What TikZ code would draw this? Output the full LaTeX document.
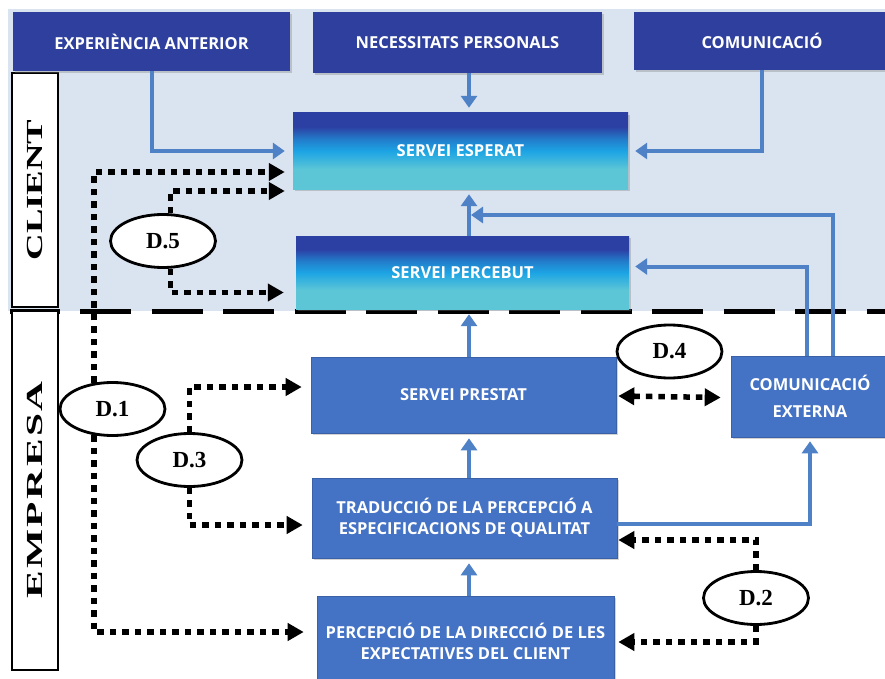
\documentclass[tikz,border=0pt]{standalone}
\usepackage{fontspec}
\setmainfont{Liberation Serif}
\newfontfamily\boxfont{Open Sans}
\newfontfamily\empresafont{Liberation Serif}[LetterSpace=6]
\usetikzlibrary{arrows.meta,shapes.geometric,shadows,calc}

\definecolor{navy}{HTML}{2E3F9E}
\definecolor{midblue}{HTML}{4472C4}
\definecolor{flowblue}{HTML}{4F81C7}
\definecolor{clientbg}{HTML}{DAE3F0}
\definecolor{gldark}{HTML}{2C3FA3}
\definecolor{glbright}{HTML}{1CA4E4}
\definecolor{glcyan}{HTML}{5CC6D6}
\pgfdeclareverticalshading{gloss}{100bp}{color(0bp)=(glcyan); color(25bp)=(glcyan); color(38bp)=(glcyan); color(50bp)=(glbright); color(58bp)=(glbright!60!gldark); color(66bp)=(gldark); color(75bp)=(gldark); color(100bp)=(gldark)}

\tikzset{
  boxtext/.style={text=white, align=center, inner sep=2pt, font=\boxfont\bfseries\fontsize{16.5}{21}\selectfont},
  topbox/.style={boxtext, rectangle, fill=navy, drop shadow={shadow xshift=2pt,shadow yshift=-2pt,opacity=0.35}},
  glossbox/.style={boxtext, rectangle, shading=gloss, drop shadow={shadow xshift=2pt,shadow yshift=-2pt,opacity=0.35}},
  midbox/.style={boxtext, rectangle, fill=midblue, draw=midblue!85!black, line width=0.6pt, drop shadow={shadow xshift=2pt,shadow yshift=-2pt,opacity=0.35}},
  labelbox/.style={rectangle, draw, line width=2pt, fill=white, rotate=90, inner sep=0pt},
  gapnode/.style={ellipse, draw, line width=2.8pt, fill=white, minimum width=105, minimum height=53, inner sep=0pt, font=\bfseries\fontsize{23}{23}\selectfont},
  flow/.style={draw=flowblue, line width=4pt, shorten >=5pt, -{Triangle[length=12pt,width=16pt]}},
  gapline/.style={line width=5.5pt, dash pattern=on 6.5pt off 6pt, -{Triangle[length=16pt,width=17pt]}}
}

\begin{document}
\begin{tikzpicture}[x=1pt,y=-1pt, line join=miter]
\useasboundingbox (0,0) rectangle (885,679);
\fill[clientbg] (8,9) rectangle (885,311);

% separacio client / empresa
\draw[line width=5pt] (10,311) -- (60,311);
\draw[line width=5pt, dash pattern=on 51pt off 20.5pt] (80,311) -- (885,311);

\node[labelbox, minimum width=234, minimum height=46] (cli) at (35,190) {\scalebox{1.6}[1]{\bfseries\fontsize{23}{23}\selectfont CLIENT}};
\node[labelbox, minimum width=359, minimum height=46] (emp) at (35,490) {\scalebox{1.8}[1]{\empresafont\bfseries\fontsize{23}{23}\selectfont EMPRESA}};

\node[topbox, minimum width=277, minimum height=59] (exp) at (151.5,41.5) {EXPERIÈNCIA ANTERIOR};
\node[topbox, minimum width=289, minimum height=61] (nec) at (457.5,42.5) {NECESSITATS PERSONALS};
\node[topbox, minimum width=256, minimum height=58] (com) at (762,41) {COMUNICACIÓ};

\node[glossbox, minimum width=335, minimum height=76] (esp) at (460.5,151) {SERVEI ESPERAT};
\node[glossbox, minimum width=333, minimum height=73] (perc) at (462.5,272.5) {SERVEI PERCEBUT};
\node[midbox, minimum width=305, minimum height=76] (prest) at (463.5,395) {SERVEI PRESTAT};
\node[midbox, minimum width=158, minimum height=81] (ext) at (810,396.5) {COMUNICACIÓ\\[6pt]EXTERNA};
\node[midbox, minimum width=305, minimum height=80] (trad) at (464.5,518) {TRADUCCIÓ DE LA PERCEPCIÓ A\\ESPECIFICACIONS DE QUALITAT};
\node[midbox, minimum width=297, minimum height=90] (dir) at (465.5,641) {PERCEPCIÓ DE LA DIRECCIÓ DE LES\\EXPECTATIVES DEL CLIENT};

\node[gapnode] (d1) at (112.5,409) {D.1};
\node[gapnode] (d5) at (163,241) {D.5};
\node[gapnode] (d3) at (189.5,460) {D.3};
\node[gapnode] (d4) at (669.5,351.5) {D.4};
\node[gapnode] (d2) at (756,598) {D.2};

% fletxes blaves
\coordinate (axis) at (469,0);
\coordinate (kink) at (471,215);
\draw[flow, shorten >=8pt] (exp.south) |- (esp.west);
\draw[flow] (nec.south -| axis) -- (esp.north -| axis);
\draw[flow, shorten >=7pt] (com.south) |- (esp.east);
\draw[flow] (perc.north -| axis) -- (esp.south -| axis);
\draw[flow] (prest.north -| axis) -- (perc.south -| axis);
\draw[flow] (trad.north -| axis) -- (prest.south -| axis);
\draw[flow] (dir.north -| axis) -- (trad.south -| axis);
\draw[flow, shorten >=4pt] ([yshift=-6pt]trad.east) -| (ext.south);
\draw[flow, shorten >=6pt] ([xshift=-3pt]ext.north) |- ([yshift=6pt]perc.east);
\draw[flow, shorten >=0pt] ([xshift=23pt]ext.north) |- (kink);

% desajustos
\draw[gapline] (d1.125) |- ($(esp.west)+(-8,21)$);
\draw[gapline] (d1.235) |- ($(dir.west)+(-13,-9)$);
\draw[gapline] (d5.75) |- ($(esp.west)+(-8,40)$);
\draw[gapline] (d5.-75) |- ($(perc.west)+(-12,20)$);
\draw[gapline] (d3.north) |- ($(prest.west)+(-9,-8)$);
\draw[gapline] (d3.south) |- ($(trad.west)+(-9,7)$);
\draw[gapline] (d2.north) |- ($(trad.east)+(1,22)$);
\draw[gapline] (d2.south) |- ($(dir.east)+(4,1)$);
\draw[gapline, {Triangle[length=16pt,width=17pt]}-{Triangle[length=16pt,width=17pt]}] ($(prest.east)+(2,1)$) -- ($(ext.west)+(-10,1)$);
\end{tikzpicture}
\end{document}
